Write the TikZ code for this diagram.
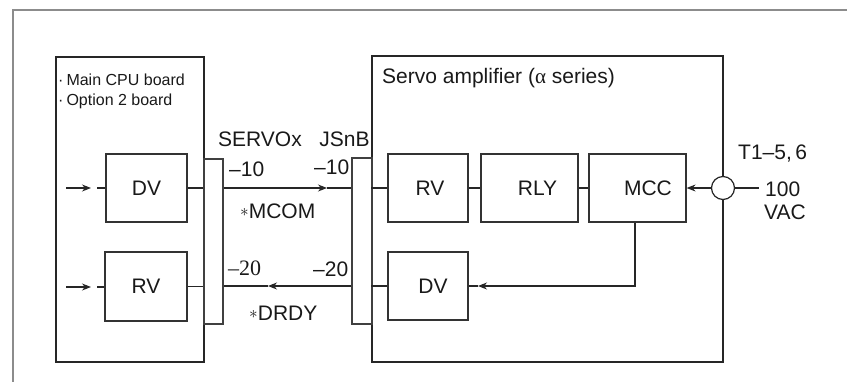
\documentclass[tikz,border=0pt]{standalone}
\usepackage{fontspec}
\setmainfont{Liberation Sans}
\newfontfamily\serifnum{Liberation Serif}
\usetikzlibrary{arrows.meta}
\begin{document}
\begin{tikzpicture}[x=1pt,y=-1pt,
 bigbox/.style={draw=black!85,line width=2pt,inner sep=0pt,rectangle},
 smallbox/.style={draw=black!80,line width=1.2pt,inner sep=0pt,rectangle,font=\fontsize{21}{25}\selectfont,text=black!90},
 connbox/.style={draw=black!75,line width=1.1pt,inner sep=0pt,rectangle},
 wire/.style={draw=black!85,line width=1.1pt},
 arr/.style={wire,-{Stealth[length=9pt,width=7pt]}},
 lbl/.style={font=\fontsize{21}{25}\selectfont,text=black!90,inner sep=0pt},
 smalltxt/.style={font=\fontsize{16}{20}\selectfont,text=black!90,inner sep=0pt,anchor=base west},
]
\useasboundingbox (0,0) rectangle (847,381);
\draw[black!45,line width=2.5pt] (13,390) -- (13,10) -- (850,10);

% left CPU board
\node[bigbox,minimum width=148pt,minimum height=305pt] (cpu) at (130,209.5) {};
\node[smallbox,minimum width=81pt,minimum height=68pt] (dv1) at (146.5,188) {DV};
\node[smallbox,minimum width=82pt,minimum height=69pt] (rv1) at (146,286.5) {RV};
\node[connbox,minimum width=19pt,minimum height=165pt] (sx) at (213.5,241.5) {};
\node[smalltxt] (cpu1) at (58,85) {·\kern3pt Main CPU board};
\node[smalltxt] (cpu2) at (58,105) {·\kern3pt Option 2 board};

% servo amplifier
\node[bigbox,minimum width=351pt,minimum height=306pt] (amp) at (547.5,209) {};
\node[connbox,minimum width=20pt,minimum height=166pt] (js) at (362,241) {};
\node[smallbox,minimum width=80pt,minimum height=68pt,label={[lbl,xshift=2pt]center:RV}] (rv2) at (428,188) {};
\node[smallbox,minimum width=97pt,minimum height=68pt,label={[lbl,xshift=8pt]center:RLY}] (rly) at (529.5,188) {};
\node[smallbox,minimum width=97pt,minimum height=68pt,label={[lbl,xshift=10.5pt]center:MCC}] (mcc) at (637.5,188) {};
\node[smallbox,minimum width=80pt,minimum height=68pt,label={[lbl,xshift=5pt]center:DV}] (dv2) at (428,286) {};
\node[circle,draw=black!85,line width=1.2pt,minimum size=23pt,inner sep=0pt,fill=white] (ci) at (723,188) {};
\node[lbl,anchor=base west] (title) at (382,83) {Servo amplifier ({\serifnum α} series)};

% coordinates
\coordinate (in1) at (66,188);
\coordinate (in1t) at (91,188);
\coordinate (in1s) at (97,188);
\coordinate (in2) at (66,287);
\coordinate (in2t) at (91,287);
\coordinate (in2s) at (97,287);
\coordinate (mA) at (327,188);
\coordinate (dA) at (268,286);
\coordinate (vac) at (759,188);
\coordinate (fb) at (635,286);
\coordinate (fbt) at (478,286);

% left wires
\draw[arr] (in1) -- (in1t);
\draw[wire] (in1s) -- (in1s -| dv1.west);
\draw[arr] (in2) -- (in2t);
\draw[wire] (in2s) -- (in2s -| rv1.west);
\draw[wire] (dv1.east) -- (dv1.east -| sx.west);
\draw[wire] (rv1.east) -- (rv1.east -| sx.west);

% cable
\draw[arr] (sx.east |- mA) -- (mA);
\draw[wire] (mA) -- (mA -| js.west);
\draw[arr] (js.west |- dA) -- (dA);
\draw[wire] (dA) -- (dA -| sx.east);

% servo wires
\draw[wire] (amp.west |- rv2.west) -- (rv2.west);
\draw[wire] (amp.west |- dv2.west) -- (dv2.west);
\draw[wire] (rv2) -- (rly);
\draw[wire] (rly) -- (mcc);
\draw[arr] (ci) -- (mcc);
\draw[wire] (ci) -- (vac);
\draw[arr] (mcc.south -| fb) |- (fbt);
\draw[wire] (fbt) -- (dv2.east);

% labels
\node[lbl,anchor=base] (servox) at (260,146) {SERVOx};
\node[lbl,anchor=base] (jsnb) at (344.5,146) {JSnB};
\node[lbl,anchor=base west] (l10a) at (229,176) {–10};
\node[lbl,anchor=base west] (l10b) at (314,174) {–10};
\node[lbl,anchor=base west] (mcom) at (240,218) {\raisebox{2pt}{\fontsize{19}{19}\selectfont$\ast$}MCOM};
\node[lbl,anchor=base west,font=\fontsize{22}{26}\serifnum] (l20a) at (228,275) {–20};
\node[lbl,anchor=base west] (l20b) at (313,276) {–20};
\node[lbl,anchor=base west] (drdy) at (249,320) {\raisebox{2pt}{\fontsize{19}{19}\selectfont$\ast$}DRDY};
\node[lbl,anchor=base west] (t15) at (738,159) {T1–5,\,6};
\node[lbl,anchor=base west] (v100) at (765,196) {100};
\node[lbl,anchor=base west] (vacl) at (764,219) {VAC};
\end{tikzpicture}
\end{document}
